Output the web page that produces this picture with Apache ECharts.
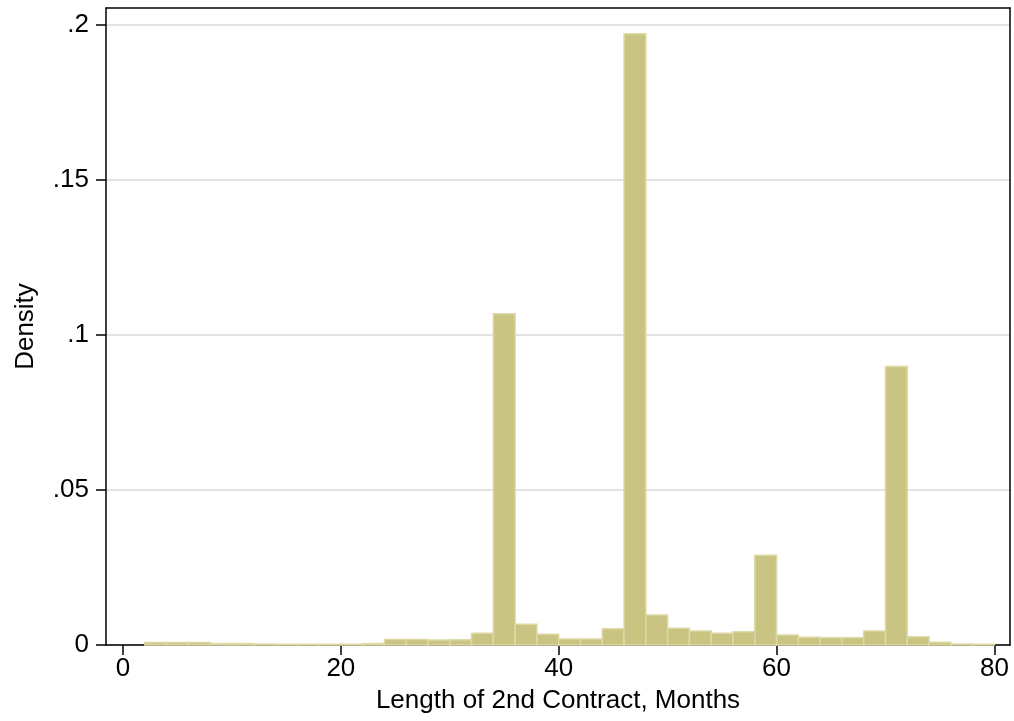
<!DOCTYPE html>
<html>
<head>
<meta charset="utf-8">
<script src="https://cdn.jsdelivr.net/npm/echarts@6/dist/echarts.min.js"></script>
<style>
html,body{margin:0;padding:0;background:#fff;}
#chart{width:1014px;height:721px;}
</style>
</head>
<body>
<div id="chart"></div>
<script>
// Histogram bin edges (months)
var binEdges = [2,4,6,8,10,12,14,16,18,20,22,24,26,28,30,32,34,36,38,40,42,44,46,48,50,52,54,56,58,60,62,64,66,68,70,72,74,76,78,80];
// Density per bin
var density = [0.0008,0.0008,0.0008,0.0005,0.0005,0.0003,0.0002,0.0002,0.0002,0.0002,0.0005,0.0018,0.0018,0.0016,0.0017,0.0038,
  0.1068,0.0067,0.0035,0.0019,0.0019,0.0052,0.1971,0.0097,0.0054,0.0045,0.0038,0.0043,0.0289,0.0032,0.0025,0.0023,0.0023,0.0045,
  0.0898,0.0027,0.0009,0.0003,0.0002];
var xTicks = [0,20,40,60,80];
var yTicks = [0,0.05,0.1,0.15,0.2];
var yTickLabels = ['0','.05','.1','.15','.2'];
var xTitle = 'Length of 2nd Contract, Months';
var yTitle = 'Density';

var data = density.map(function(d,i){ return [binEdges[i], binEdges[i+1], d]; });

var FONT = '"Liberation Sans", Arial, Helvetica, sans-serif';
var FS = 26;
var XMIN = -1.56, XMAX = 81.43, YMAX = 0.2054;

var chart = echarts.init(document.getElementById('chart'), null, {renderer:'canvas'});
chart.setOption({
  animation:false,
  backgroundColor:'#ffffff',
  grid:{left:106, right:4, top:8, bottom:76, containLabel:false},
  xAxis:[{
    type:'value', min:XMIN, max:XMAX,
    axisLine:{show:true, onZero:false, lineStyle:{color:'#000', width:1.5}},
    axisTick:{show:true, customValues:xTicks, length:10, lineStyle:{color:'#000', width:1.5}},
    axisLabel:{show:true, customValues:xTicks, margin:11, color:'#000', fontSize:FS, fontFamily:FONT},
    splitLine:{show:false},
    name:xTitle, nameLocation:'middle', nameGap:43,
    nameTextStyle:{color:'#000', fontSize:FS, fontFamily:FONT}
  },{
    type:'value', position:'top', min:XMIN, max:XMAX, z:10,
    axisLine:{show:true, onZero:false, lineStyle:{color:'#000', width:1.5}},
    axisTick:{show:false}, axisLabel:{show:false}, splitLine:{show:false}
  }],
  yAxis:[{
    type:'value', min:0, max:YMAX, interval:0.05,
    axisLine:{show:true, onZero:false, lineStyle:{color:'#000', width:1.5}},
    axisTick:{show:true, customValues:yTicks, length:10, lineStyle:{color:'#000', width:1.5}},
    axisLabel:{show:true, customValues:yTicks, margin:17, color:'#000', fontSize:FS, fontFamily:FONT,
      formatter:function(v){ var i = -1; for(var k=0;k<yTicks.length;k++){ if(Math.abs(yTicks[k]-v)<1e-9) i=k; } return i>=0 ? yTickLabels[i] : ''; }},
    splitLine:{show:true, lineStyle:{color:'#e3e3e3', width:2}},
    name:yTitle, nameLocation:'middle', nameGap:67, nameRotate:90,
    nameTextStyle:{color:'#000', fontSize:FS, fontFamily:FONT}
  },{
    type:'value', position:'right', min:0, max:YMAX, z:10,
    axisLine:{show:true, onZero:false, lineStyle:{color:'#000', width:1.5}},
    axisTick:{show:false}, axisLabel:{show:false}, splitLine:{show:false}
  }],
  series:[{
    type:'custom',
    xAxisIndex:0, yAxisIndex:0,
    data:data,
    encode:{x:[0,1], y:2},
    z:5,
    renderItem:function(params, api){
      var x0 = api.value(0), x1 = api.value(1), y = api.value(2);
      var p0 = api.coord([x0, y]);
      var p1 = api.coord([x1, 0]);
      return {
        type:'rect',
        shape:{x:p0[0], y:p0[1], width:p1[0]-p0[0], height:p1[1]-p0[1]},
        style:{fill:'#cac483', stroke:'#ddd9a6', lineWidth:1.5}
      };
    }
  }]
});
</script>
</body>
</html>
